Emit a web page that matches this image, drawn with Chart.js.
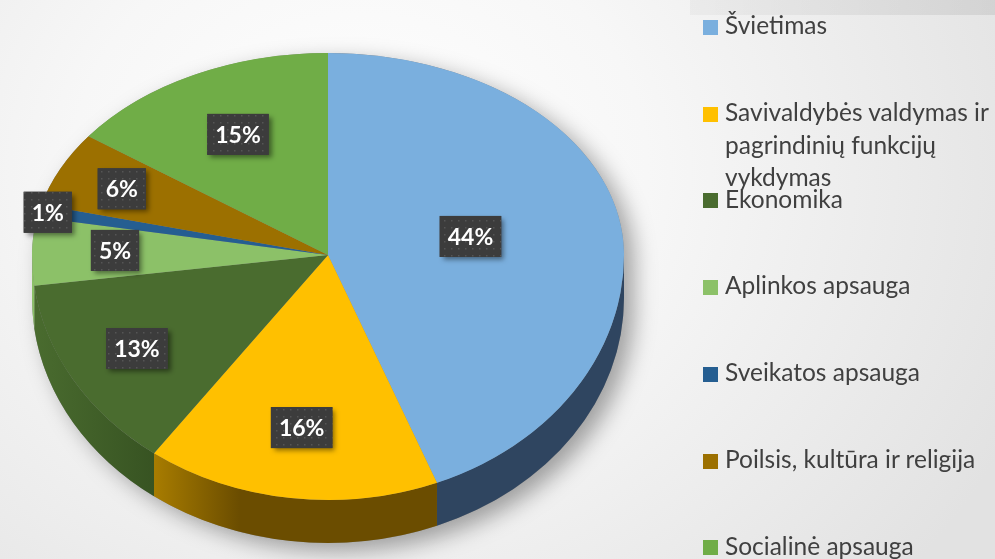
<!DOCTYPE html>
<html>
<head>
<meta charset="utf-8">
<script src="https://cdn.jsdelivr.net/npm/chart.js@4.4.1/dist/chart.umd.min.js"></script>
<style>
  html, body { margin: 0; padding: 0; width: 995px; height: 559px; overflow: hidden; }
  body {
    position: relative;
    background: radial-gradient(ellipse 720px 620px at 360px 170px, #ffffff 0%, #f7f7f7 40%, #e2e2e2 100%);
  }
  #band { position: absolute; left: 690px; top: 0; width: 305px; height: 15px;
    background: linear-gradient(to right, rgba(0,0,0,0.03), rgba(0,0,0,0.08)); }
  #myChart { position: absolute; left: 0; top: 0; }
  .leg-box { position: absolute; left: 703px; width: 15px; height: 15px; }
  .leg-text {
    position: absolute; left: 725px; width: 278px;
    font-family: Lato, 'Open Sans', sans-serif; font-size: 24.5px; line-height: 32.5px; color: #404040;
  }
</style>
</head>
<body>
<div id="band"></div>
<canvas id="myChart" width="995" height="559"></canvas>
<div id="legend"></div>
<script>
// chart data
const labels = [
  'Švietimas',
  'Savivaldybės valdymas ir pagrindinių funkcijų vykdymas',
  'Ekonomika',
  'Aplinkos apsauga',
  'Sveikatos apsauga',
  'Poilsis, kultūra ir religija',
  'Socialinė apsauga',
];
const shares = [44, 16, 13, 5, 1, 6, 15];
const colors = ['#7aafde', '#ffc000', '#4a6c2f', '#8cc168', '#255e91', '#9c7000', '#70ad47'];
const sideColors = ['#2f4560', '#6b4d00', '#2a4219', '#4f6e3a', '#15344f', '#573e00', '#3f6128'];

// where the label sits along the slice radius (style only)
const labelRadius = [0.49, 0.71, 0.75, 0.72, 0.97, 0.77, 0.67];

// 3d look of the pie
const CX = 328, CY = 255, RX = 296, RYT = 202, RYB = 245, DEPTH = 43;

function dotPattern(ctx) {
  const c = document.createElement('canvas');
  c.width = 7; c.height = 7;
  const p = c.getContext('2d');
  p.fillStyle = '#3c3c3c';
  p.fillRect(0, 0, 7, 7);
  p.fillStyle = '#555555';
  p.fillRect(3, 3, 1.5, 1.5);
  return ctx.createPattern(c, 'repeat');
}

const pie3d = {
  id: 'pie3d',
  beforeDatasetsDraw(chart) {
    const ctx = chart.ctx;
    const arcs = chart.getDatasetMeta(0).data;
    if (!arcs.length) return false;
    const ox = arcs[0].x, oy = arcs[0].y, r = arcs[0].outerRadius;

    // shadow under the pie
    ctx.save();
    ctx.shadowColor = 'rgba(0,0,0,0.35)';
    ctx.shadowBlur = 22;
    ctx.shadowOffsetX = 10;
    ctx.shadowOffsetY = 8;
    ctx.fillStyle = '#888';
    ctx.beginPath();
    ctx.ellipse(CX, CY, RX, RYT, 0, Math.PI, 2 * Math.PI);
    ctx.ellipse(CX, CY + DEPTH, RX, RYB, 0, 0, Math.PI);
    ctx.closePath();
    ctx.fill();
    ctx.restore();

    // side walls (front half only)
    arcs.forEach((arc, i) => {
      const a1 = Math.max(arc.startAngle, 0);
      const a2 = Math.min(arc.endAngle, Math.PI);
      if (a2 <= a1) return;
      const g = ctx.createLinearGradient(CX - RX, 0, CX + RX, 0);
      g.addColorStop(0, colors[i]);
      g.addColorStop(0.35, sideColors[i]);
      g.addColorStop(1, sideColors[i]);
      ctx.fillStyle = g;
      ctx.beginPath();
      ctx.ellipse(CX, CY, RX, RYB, 0, a1, a2, false);
      ctx.lineTo(CX + RX * Math.cos(a2), CY + RYB * Math.sin(a2) + DEPTH);
      ctx.ellipse(CX, CY + DEPTH, RX, RYB, 0, a2, a1, true);
      ctx.closePath();
      ctx.fill();
    });

    // top face, back half and front half with different squash
    [[0, CY + 0.5, RYT], [CY, 559 - CY, RYB]].forEach(([top, h, ry]) => {
      ctx.save();
      ctx.beginPath();
      ctx.rect(0, top, 995, h);
      ctx.clip();
      ctx.translate(CX, CY);
      ctx.scale(RX / r, ry / r);
      ctx.translate(-ox, -oy);
      arcs.forEach((arc) => arc.draw(ctx));
      ctx.restore();
    });

    // data labels
    const pat = dotPattern(ctx);
    ctx.font = 'bold 23px Lato, "Open Sans", sans-serif';
    ctx.textAlign = 'center';
    ctx.textBaseline = 'middle';
    arcs.forEach((arc, i) => {
      const mid = (arc.startAngle + arc.endAngle) / 2;
      const s = Math.sin(mid);
      const x = CX + labelRadius[i] * RX * Math.cos(mid);
      const y = CY + labelRadius[i] * (s > 0 ? RYB : RYT) * s;
      const txt = shares[i] + '%';
      const w = ctx.measureText(txt).width + 16;
      const h = 41;
      ctx.save();
      ctx.shadowColor = 'rgba(0,0,0,0.45)';
      ctx.shadowBlur = 5;
      ctx.shadowOffsetX = 3;
      ctx.shadowOffsetY = 3;
      ctx.fillStyle = '#3c3c3c';
      ctx.fillRect(x - w / 2, y - h / 2, w, h);
      ctx.restore();
      ctx.fillStyle = pat;
      ctx.fillRect(x - w / 2, y - h / 2, w, h);
      ctx.fillStyle = '#ffffff';
      ctx.fillText(txt, x, y + 1);
    });
    return false;
  },
};

const ctx = document.getElementById('myChart');
new Chart(ctx, {
  type: 'pie',
  data: {
    labels: labels,
    datasets: [
      {
        data: shares,
        backgroundColor: colors,
        borderWidth: 0,
      },
    ],
  },
  options: {
    responsive: false,
    animation: false,
    events: [],
    plugins: {
      legend: { display: false },
      tooltip: { enabled: false },
    },
  },
  plugins: [pie3d],
});

// legend on the right
const legend = document.getElementById('legend');
labels.forEach((label, i) => {
  const top = 20 + i * 86.7;
  const box = document.createElement('div');
  box.className = 'leg-box';
  box.style.top = top + 'px';
  box.style.background = colors[i];
  const text = document.createElement('div');
  text.className = 'leg-text';
  text.style.top = (top - 10.7) + 'px';
  text.textContent = label;
  legend.appendChild(box);
  legend.appendChild(text);
});
</script>
</body>
</html>
